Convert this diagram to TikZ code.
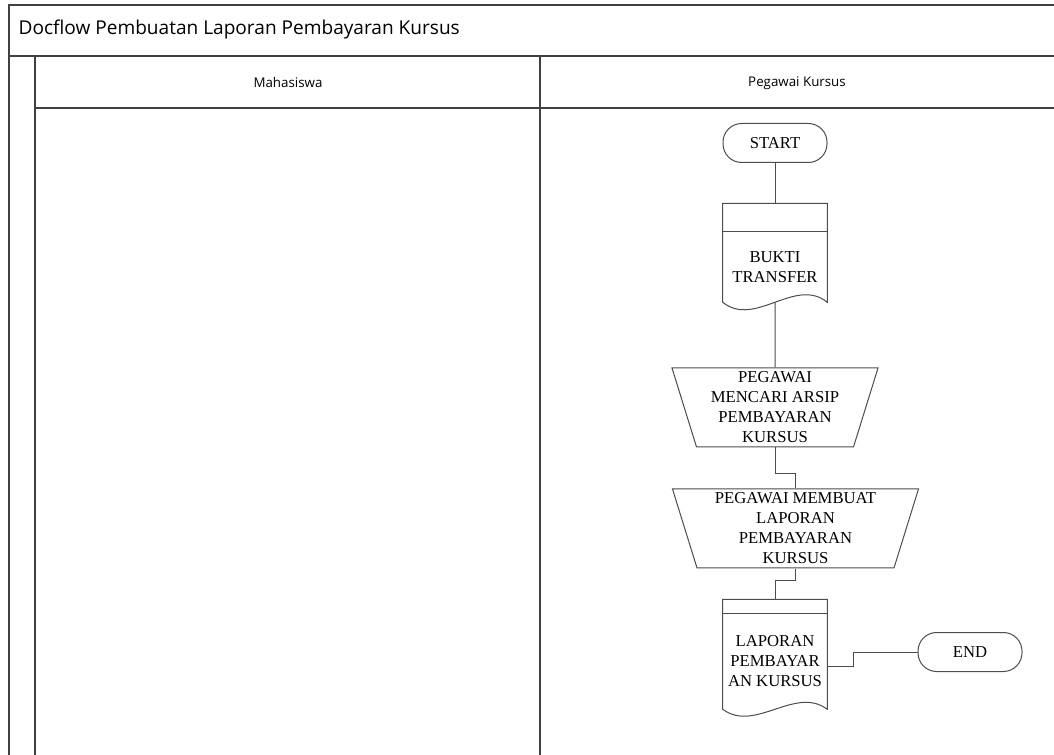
\documentclass[tikz,border=0pt]{standalone}
\usepackage{fontspec}
\setmainfont{Liberation Serif}
\newfontfamily\lanefont{Open Sans}
\usetikzlibrary{positioning,shapes.geometric}
\tikzset{
  frame/.style={draw=black!75,line width=0.9pt},
  line/.style={draw=black!70,line width=0.75pt},
  boxtext/.style={font=\fontsize{12.5}{15}\selectfont,align=center},
  terminal/.style={line,boxtext,rounded corners=14pt,minimum width=78pt,minimum height=29.25pt,inner sep=0pt},
  docbox/.style={boxtext,minimum width=78pt,inner sep=0pt},
  manual/.style={line,boxtext,trapezium,shape border rotate=180,trapezium stretches body,
    trapezium angle=71,minimum height=59.25pt,inner sep=0pt},
  lanetext/.style={font=\lanefont\fontsize{10}{12}\selectfont}
}
\begin{document}
\begin{tikzpicture}[x=0.75pt,y=-0.75pt]
  \useasboundingbox (0,0) rectangle (1054,755);
  \draw[frame] (9,755) -- (9,5) -- (1054,5);
  \draw[frame] (9,56) -- (1054,56);
  \draw[frame] (35,108) -- (1054,108);
  \draw[frame] (35,56) -- (35,755);
  \draw[frame] (540,56) -- (540,755);
  \node[anchor=west,font=\lanefont\fontsize{14.3}{16}\selectfont] (title) at (14,30) {Docflow Pembuatan Laporan Pembayaran Kursus};
  \node[lanetext] (mhs) at (288,83) {Mahasiswa};
  \node[lanetext] (pgw) at (797,83) {Pegawai Kursus};

  \node[terminal] (start) at (775,143) {START};
  \node[docbox,minimum height=52.5pt] (bukti) at (775,267) {BUKTI\\TRANSFER};
  \node[manual,minimum width=154.5pt] (cari) at (775,407.5) {PEGAWAI\\MENCARI ARSIP\\PEMBAYARAN\\KURSUS};
  \node[manual,minimum width=184.5pt] (buat) at (795.5,528.5) {PEGAWAI MEMBUAT\\LAPORAN\\PEMBAYARAN\\KURSUS};
  \node[docbox,minimum height=71.25pt] (lap) at (775,661.5) {LAPORAN\\PEMBAYAR\\AN KURSUS};
  \node[terminal] (end) at (970,652) {END};

  \draw[line] (bukti.north west) -- (bukti.north east);
  \draw[line] (bukti.south west) -- ++(0,-99) -| (bukti.south east)
    .. controls +(-32,-26) and +(32,26) .. (bukti.south west);
  \draw[line] (lap.north west) -- (lap.north east);
  \draw[line] (lap.south west) -- ++(0,-110) -| (lap.south east)
    .. controls +(-32,-24) and +(32,24) .. (lap.south west);

  \draw[line] (start.south) -- ([yshift=21.75pt]bukti.north);
  \draw[line] (bukti.south) -- (cari.north);
  \draw[line] (cari.south) -- ++(0,26) -| (buat.north);
  \draw[line] (buat.south) -- ++(0,12) -| ([yshift=11.25pt]lap.north);
  \draw[line] ([yshift=-4pt]lap.east) -- ++(26,0) |- (end.west);
\end{tikzpicture}
\end{document}
